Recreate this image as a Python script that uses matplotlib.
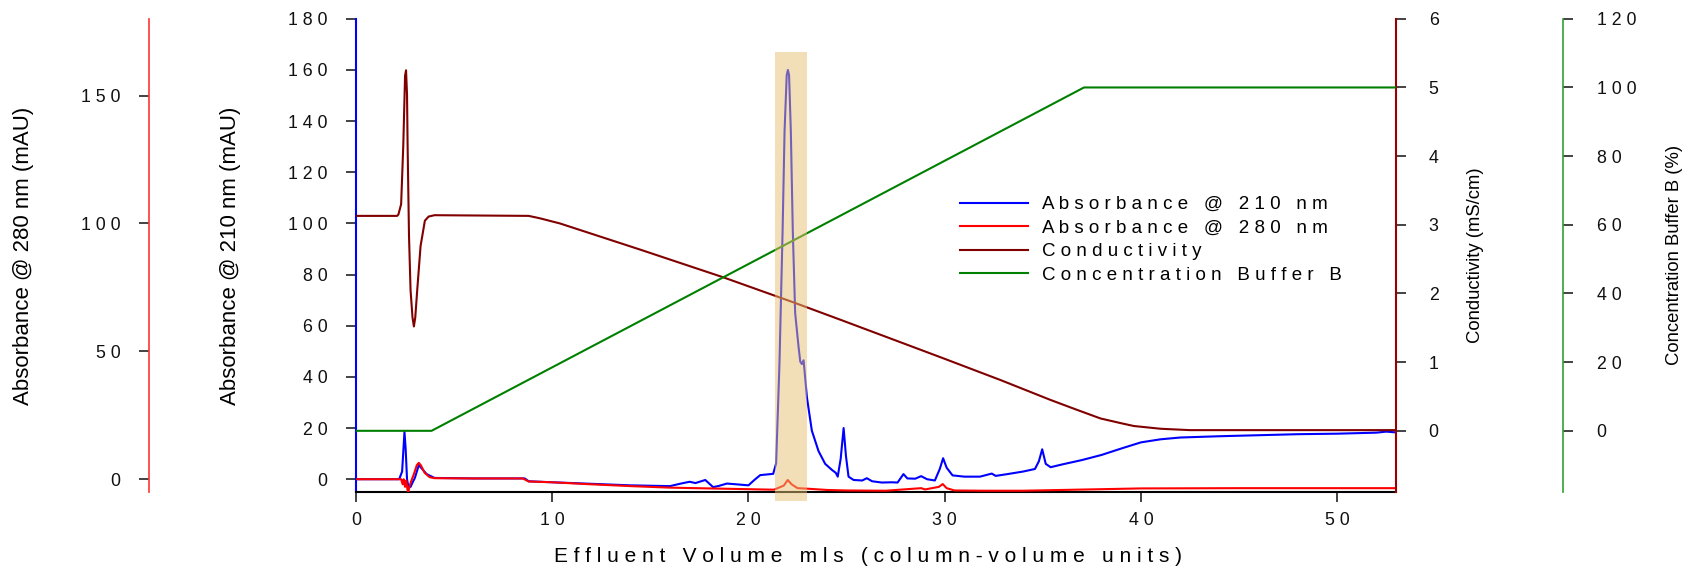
import matplotlib
matplotlib.use('Agg')
import matplotlib.pyplot as plt

plt.rcParams['font.family'] = ['Liberation Sans', 'DejaVu Sans']

# effluent volume (column volumes) and absorbance @ 210 nm (mAU)
x210 = [0, 2.2, 2.35, 2.42, 2.47, 2.53, 2.6, 2.67, 2.78, 2.9, 3.0, 3.2, 3.6, 4.0, 6, 8.6,
        8.8, 10, 12, 14, 16.0, 16.5, 17.0, 17.3, 17.8, 18.2, 18.5, 18.9, 19.55, 20.0, 20.3,
        20.6, 21.26, 21.41, 21.58, 21.74, 21.84, 21.95, 22.01, 22.07, 22.16, 22.26, 22.38,
        22.55, 22.64, 22.72, 22.81, 22.98, 23.23, 23.57, 23.91, 24.26, 24.45, 24.55, 24.7,
        24.85, 24.97, 25.1, 25.36, 25.8, 26.03, 26.3, 26.8, 27.3, 27.6, 27.9, 28.1, 28.5,
        28.8, 29.1, 29.5, 29.75, 29.92, 30.1, 30.4, 31, 31.8, 32.4, 32.6, 33.2, 34.0, 34.6,
        34.8, 34.97, 35.15, 35.4, 36, 37, 38, 39, 40, 41, 42, 44, 46, 48, 50, 52, 52.5, 53]
a210 = [0, 0, 3, 12, 18.5, 12, 0, -3, -3, -1, 0.5, 5.5, 2, 0.5, 0.3, 0.3,
        -0.8, -1.2, -1.8, -2.4, -2.7, -1.8, -1.0, -1.5, -0.3, -3.1, -2.6, -1.7, -2.1, -2.4, -0.3,
        1.6, 2.1, 6.2, 45, 97, 136, 158, 160, 158, 136, 97, 65,
        52, 46, 45, 46.5, 32, 19, 11, 6, 3.6, 2.5, 1, 8,
        20, 9, 1, -0.3, -0.5, 0.4, -0.8, -1.3, -1.2, -1.3, 2.0, 0.3, 0.2,
        1.2, 0.0, -0.5, 4, 8.2, 4.5, 1.5, 1.0, 1.0, 2.2, 1.3, 2.0, 3.0, 4.0,
        7, 11.7, 6, 4.7, 5.8, 7.5, 9.5, 12, 14.4, 15.6, 16.3, 16.8, 17.2, 17.6, 17.8, 18.2, 18.6, 18.3]

# absorbance @ 280 nm (mAU)
x280 = [0, 2.3, 2.38, 2.43, 2.5, 2.56, 2.62, 2.67, 2.72, 2.8, 2.95, 3.1, 3.2, 3.3, 3.5, 3.75,
        4.0, 6, 8.5, 8.8, 10, 12, 14, 16, 18, 20, 21.3, 21.8, 22.0, 22.2, 22.5, 23.0, 24, 25,
        27, 28.8, 29.0, 29.7, 29.9, 30.1, 30.5, 32, 34, 36, 38, 40, 45, 53]
a280 = [0, 0, -2, 0, -3, -0.5, -4, -5, -3, -1, 2, 5.5, 6.4, 5.5, 2.5, 0.8,
        0.4, 0.3, 0.3, -0.9, -1.2, -2.0, -2.7, -3.3, -3.6, -3.9, -4.1, -2.5, -0.3, -2, -3.5, -3.7, -4.2, -4.4,
        -4.5, -3.5, -4.0, -3.0, -1.9, -3.5, -4.4, -4.5, -4.5, -4.2, -3.9, -3.6, -3.5, -3.5]

# conductivity (mS/cm)
xcond = [0, 2.1, 2.16, 2.3, 2.41, 2.5, 2.55, 2.6, 2.63, 2.7, 2.78, 2.88, 2.95, 3.02, 3.12,
         3.29, 3.51, 3.7, 4.0, 8.8, 9.37, 10.39, 12.43, 14.47, 18.72, 22.3, 24.85, 29.8,
         32.84, 35.39, 36.7, 37.94, 39.0, 39.64, 41.0, 42.5, 53]
cond = [3.13, 3.13, 3.15, 3.3, 4.16, 5.17, 5.25, 4.9, 4.16, 2.85, 2.05, 1.65, 1.52, 1.65, 2.05,
        2.69, 3.06, 3.12, 3.14, 3.13, 3.095, 3.02, 2.83, 2.64, 2.235, 1.87, 1.60, 1.07,
        0.74, 0.45, 0.31, 0.18, 0.11, 0.07, 0.03, 0.01, 0.01]

# concentration buffer B (%)
xbuf = [0, 3.85, 37.1, 53]
buf = [0, 0, 100, 100]

# collected fraction
band_start, band_end = 21.35, 23.0

ticks_210 = [0, 20, 40, 60, 80, 100, 120, 140, 160, 180]
ticks_280 = [0, 50, 100, 150]
ticks_cond = [0, 1, 2, 3, 4, 5, 6]
ticks_buf = [0, 20, 40, 60, 80, 100, 120]
ticks_x = [0, 10, 20, 30, 40, 50]

series_names = ["Absorbance @ 210 nm", "Absorbance @ 280 nm", "Conductivity",
                "Concentration Buffer B"]


def spaced(s):
    return " ".join(str(s))


fig = plt.figure(figsize=(16.84, 5.68), dpi=100)
ax = fig.add_axes([356 / 1684, 1 - 492 / 568, 1040 / 1684, 473.2 / 568])
ax280 = ax.twinx()
axc = ax.twinx()
axb = ax.twinx()

l1, = ax.plot(x210, a210, color='#0000ff', lw=1.5)
l2, = ax280.plot(x280, a280, color='#ff0000', lw=1.5)
l3, = axc.plot(xcond, cond, color='#800000', lw=1.5)
l4, = axb.plot(xbuf, buf, color='#008000', lw=1.5)

axb.axvspan(band_start, band_end, ymin=-0.019, ymax=0.930, facecolor='#e7c173',
            alpha=0.5, lw=0, zorder=10, clip_on=False)

ax.set_xlim(0, 53)
ax.set_ylim(-5, 180)
ax280.set_ylim(-5, 180)
axc.set_ylim(-0.891, 6)
axb.set_ylim(-17.82, 120)

for a in (ax, ax280, axc, axb):
    for s in a.spines.values():
        s.set_visible(False)

ax.spines['left'].set_visible(True)
ax.spines['left'].set_color('#0000ff')
ax.spines['left'].set_linewidth(1.5)
ax.spines['bottom'].set_visible(True)
ax.spines['bottom'].set_color('black')
ax.spines['bottom'].set_linewidth(1.5)

ax280.spines['left'].set_visible(True)
ax280.spines['left'].set_position(('axes', -0.1993))
ax280.spines['left'].set_color('#ff3333')
ax280.spines['left'].set_linewidth(1.2)
ax280.yaxis.set_ticks_position('left')
ax280.yaxis.set_label_position('left')

axc.spines['right'].set_visible(True)
axc.spines['right'].set_color('#990000')
axc.spines['right'].set_linewidth(1.5)

axb.spines['right'].set_visible(True)
axb.spines['right'].set_position(('axes', 1.1603))
axb.spines['right'].set_color('#33a033')
axb.spines['right'].set_linewidth(1.2)

ax.set_xticks(ticks_x, [spaced(t) for t in ticks_x])
ax.set_yticks(ticks_210, [spaced(t) for t in ticks_210])
ax280.set_yticks(ticks_280, [spaced(t) for t in ticks_280])
axc.set_yticks(ticks_cond, [spaced(t) for t in ticks_cond])
axb.set_yticks(ticks_buf, [spaced(t) for t in ticks_buf])

for a in (ax, ax280, axc, axb):
    a.tick_params(direction='out', length=7.5, width=1.2, color='#222222',
                  labelsize=12.8, labelcolor='#111111')
ax.tick_params(axis='y', pad=13)
ax280.tick_params(axis='y', pad=13)
axc.tick_params(axis='y', pad=16)
axb.tick_params(axis='y', pad=17)
ax.tick_params(axis='x', pad=7)

ax280.set_ylabel("Absorbance @ 280 nm (mAU)", fontsize=16)
ax280.yaxis.set_label_coords(-0.320, 0.5)
ax280.yaxis.label.set_va('center')
ax.set_ylabel("Absorbance @ 210 nm (mAU)", fontsize=16)
ax.yaxis.set_label_coords(-0.121, 0.5)
ax.yaxis.label.set_va('center')
axc.set_ylabel("Conductivity (mS/cm)", fontsize=13.3)
axc.yaxis.set_label_coords(1.076, 0.5)
axc.yaxis.label.set_va('center')
axb.set_ylabel("Concentration Buffer B (%)", fontsize=13.3)
axb.yaxis.set_label_coords(1.268, 0.5)
axb.yaxis.label.set_va('center')

ax.set_xlabel(spaced("Effluent Volume mls (column-volume units)"), fontsize=15)
ax.xaxis.set_label_coords(0.492, -0.137)
ax.xaxis.label.set_va('center')

fig.legend([l1, l2, l3, l4], [spaced(n) for n in series_names],
           loc='upper left', bbox_to_anchor=(960 / 1684, 1 - 196 / 568),
           frameon=False, fontsize=13.5, handlelength=3.6, handletextpad=0.8,
           labelspacing=0.34, borderpad=0, borderaxespad=0)

fig.savefig('out.png', dpi=100)
